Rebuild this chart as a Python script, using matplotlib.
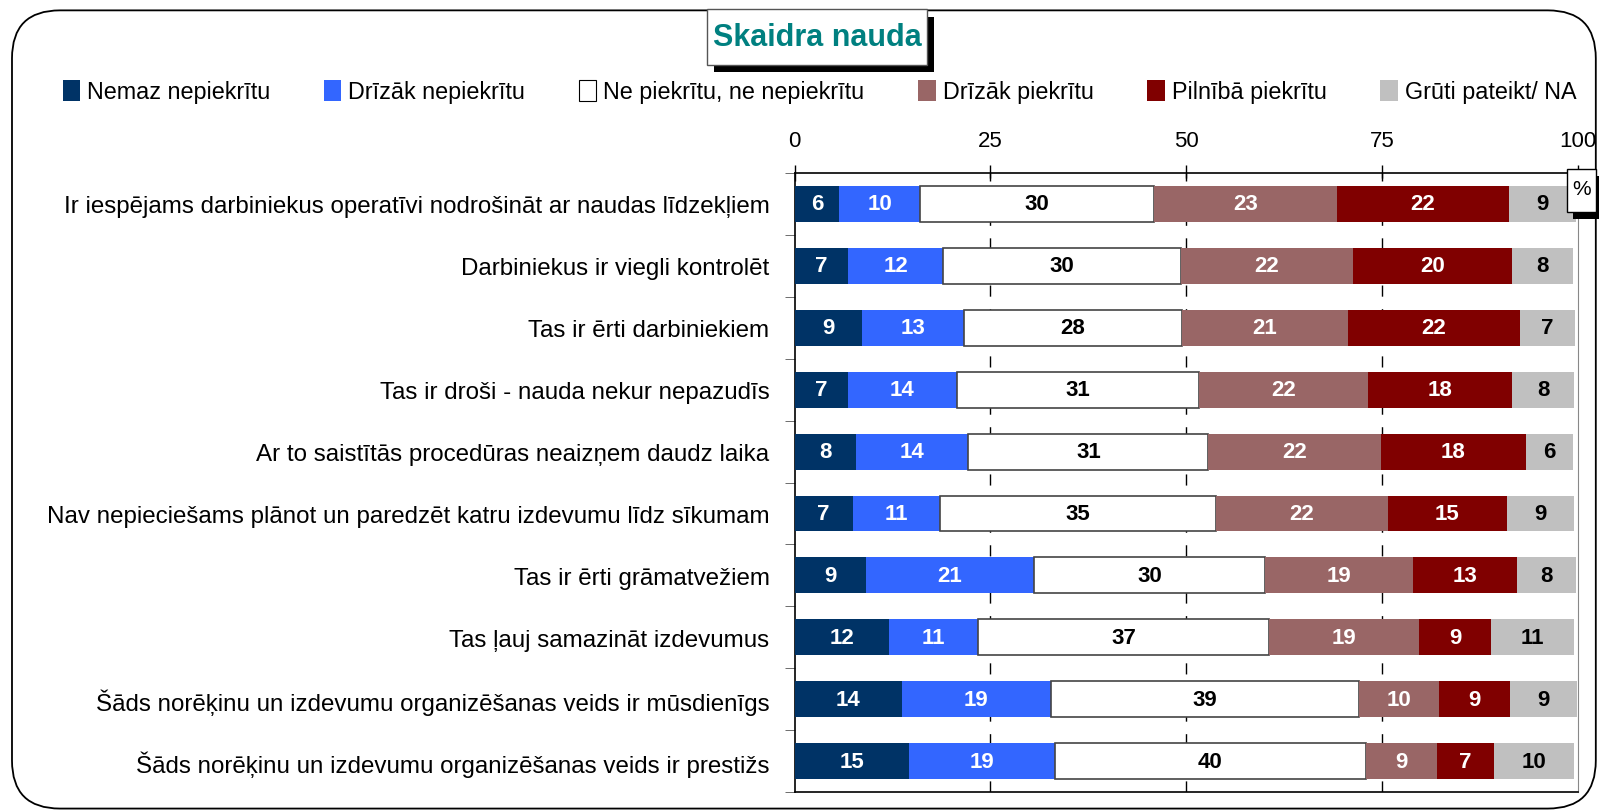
import matplotlib.pyplot as plt
from matplotlib.patches import FancyBboxPatch, Rectangle

# question texts, top to bottom
categories = [
    "Ir iespējams darbiniekus operatīvi nodrošināt ar naudas līdzekļiem",
    "Darbiniekus ir viegli kontrolēt",
    "Tas ir ērti darbiniekiem",
    "Tas ir droši - nauda nekur nepazudīs",
    "Ar to saistītās procedūras neaizņem daudz laika",
    "Nav nepieciešams plānot un paredzēt katru izdevumu līdz sīkumam",
    "Tas ir ērti grāmatvežiem",
    "Tas ļauj samazināt izdevumus",
    "Šāds norēķinu un izdevumu organizēšanas veids ir mūsdienīgs",
    "Šāds norēķinu un izdevumu organizēšanas veids ir prestižs",
]

series_names = ["Nemaz nepiekrītu", "Drīzāk nepiekrītu", "Ne piekrītu, ne nepiekrītu",
                "Drīzāk piekrītu", "Pilnībā piekrītu", "Grūti pateikt/ NA"]

# percentages
nemaz = [5.7, 6.8, 8.6, 6.8, 7.8, 7.4, 9.1, 12.0, 13.7, 14.6]
drizak_ne = [10.3, 12.2, 13.0, 13.9, 14.4, 11.2, 21.4, 11.4, 19.0, 18.6]
neitral = [29.9, 30.3, 27.9, 30.9, 30.6, 35.2, 29.6, 37.2, 39.4, 39.7]
drizak_pie = [23.3, 22.0, 21.1, 21.6, 22.1, 21.9, 18.8, 19.1, 10.2, 9.1]
pilniba = [22.0, 20.3, 22.0, 18.4, 18.4, 15.2, 13.3, 9.2, 9.0, 7.3]
gruti = [8.6, 7.8, 7.0, 7.9, 6.0, 8.6, 7.6, 10.6, 8.6, 10.2]

colors = ["#003366", "#3366FF", "#FFFFFF", "#996666", "#800000", "#C0C0C0"]
text_colors = ["white", "white", "black", "white", "white", "black"]

plt.rcParams['font.family'] = ['Liberation Sans', 'DejaVu Sans']

fig = plt.figure(figsize=(15.99, 8.12), dpi=100)
ax = fig.add_axes([0.4969, 0.0234, 0.4900, 0.7623])

y = list(range(len(categories)))
left = [0.0] * len(categories)
containers = []
for vals, name, col, tcol in zip([nemaz, drizak_ne, neitral, drizak_pie, pilniba, gruti],
                                 series_names, colors, text_colors):
    if col == "#FFFFFF":
        bars = ax.barh(y, vals, left=left, height=0.58, color=col, edgecolor="#444444",
                       linewidth=1.2, label=name, zorder=3)
    else:
        bars = ax.barh(y, vals, left=left, height=0.58, color=col, linewidth=0,
                       label=name, zorder=3)
    ax.bar_label(bars, labels=[f"{v:.0f}" for v in vals], label_type="center",
                 color=tcol, fontsize=16, fontweight="bold",
                 family=['Liberation Sans Narrow', 'Liberation Sans'], zorder=4)
    containers.append(bars)
    left = [a + b for a, b in zip(left, vals)]

ax.set_xlim(0, 100)
ax.set_ylim(len(categories) - 0.5, -0.5)

# top axis
ax.xaxis.tick_top()
ax.set_xticks([0, 25, 50, 75, 100])
ax.tick_params(axis="x", direction="inout", length=12, pad=9.5, labelsize=16, width=1)
for xv in [25, 50, 75]:
    ax.axvline(xv, color="black", linestyle=(0, (8, 9)), linewidth=1, zorder=1)

ax.set_yticks(y)
ax.set_yticklabels(categories, fontsize=17.4)
ax.tick_params(axis="y", which="major", length=0, pad=18)
ax.set_yticks([i - 0.5 for i in range(len(categories) + 1)], minor=True)
ax.tick_params(axis="y", which="minor", length=7, direction="out", color="#555555")

for side in ["top", "bottom", "left"]:
    ax.spines[side].set_color("black")
    ax.spines[side].set_linewidth(1.2)
ax.spines["right"].set_color("#888888")
ax.spines["right"].set_linewidth(0.8)

# legend
leg = fig.legend(handles=containers, labels=series_names, loc="center",
                 bbox_to_anchor=(0.5125, 0.886), ncol=6, frameon=False,
                 fontsize=16.8, handlelength=0.75, handleheight=1.0,
                 handletextpad=0.3, columnspacing=2.3)
for h in leg.legend_handles:
    if h.get_facecolor()[:3] == (1.0, 1.0, 1.0):
        h.set_edgecolor("black")
        h.set_linewidth(0.8)

# rounded border around the whole figure
fig.patches.append(FancyBboxPatch((0.0075, 0.003), 0.9905, 0.983,
                                  boxstyle="round,pad=0,rounding_size=0.03",
                                  transform=fig.transFigure, fill=False,
                                  edgecolor="black", linewidth=1.3,
                                  mutation_aspect=1599 / 812))

# title box with shadow
fig.patches.append(Rectangle((0.4465, 0.910), 0.1375, 0.068, transform=fig.transFigure,
                             facecolor="black", edgecolor="none", zorder=5))
fig.patches.append(Rectangle((0.4422, 0.919), 0.1375, 0.069, transform=fig.transFigure,
                             facecolor="white", edgecolor="#555555", linewidth=1, zorder=6))
fig.text(0.5109, 0.953, "Skaidra nauda", ha="center", va="center", fontsize=22,
         fontweight="bold", color="#008080", zorder=7)

# percent box with shadow
fig.patches.append(Rectangle((0.9837, 0.729), 0.0175, 0.053, transform=fig.transFigure,
                             facecolor="black", edgecolor="none", zorder=5))
fig.patches.append(Rectangle((0.9800, 0.738), 0.0182, 0.053, transform=fig.transFigure,
                             facecolor="white", edgecolor="black", linewidth=1, zorder=6))
fig.text(0.9891, 0.767, "%", ha="center", va="center", fontsize=15, zorder=7)

fig.savefig("out.png", dpi=100)
